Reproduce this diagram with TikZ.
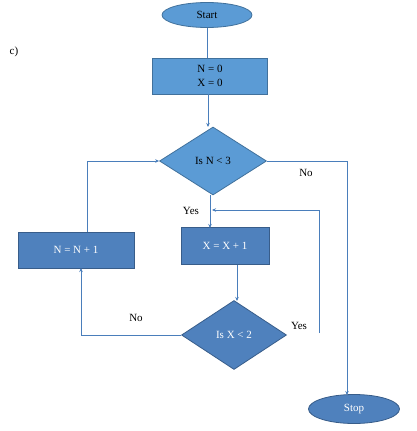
\documentclass[tikz,border=0pt]{standalone}
\usepackage{fontspec}
\setmainfont{Liberation Serif}
\usetikzlibrary{shapes.geometric,arrows.meta}
\definecolor{lightfill}{HTML}{5B9BD5}
\definecolor{lightedge}{HTML}{41719C}
\definecolor{darkfill}{HTML}{4F81BD}
\definecolor{darkedge}{HTML}{385D8A}
\definecolor{linec}{HTML}{4A7EBB}
\tikzset{
  every node/.style={font=\fontsize{11}{14}\selectfont},
  lightbox/.style={draw=lightedge, fill=lightfill, line width=0.8pt, text=black, inner sep=0pt},
  darkbox/.style={draw=darkedge, fill=darkfill, line width=0.8pt, text=white, inner sep=0pt},
  conn/.style={draw=linec, line width=0.7pt},
  arr/.style={conn, -{Stealth[length=4pt,width=3.5pt]}},
  lab/.style={text=black},
}
\begin{document}
\begin{tikzpicture}[x=1pt,y=-1pt]
\useasboundingbox (0,0) rectangle (416,431);
\node[lab] (c) at (14,52) {c)};
\node[lightbox, ellipse, minimum width=90pt, minimum height=25pt] (start) at (207,15) {Start};
\node[lightbox, rectangle, minimum width=115pt, minimum height=36pt, align=center] (init) at (210,76) {N = 0\\X = 0};
\node[lightbox, diamond, aspect=1.55, minimum width=107pt, minimum height=68pt] (d1) at (213,161) {Is N < 3};
\node[darkbox, rectangle, minimum width=116pt, minimum height=36pt] (incn) at (76,250) {N = N + 1};
\node[darkbox, rectangle, minimum width=88pt, minimum height=37pt] (incx) at (225,246) {X = X + 1};
\node[darkbox, diamond, aspect=1.52, minimum width=105pt, minimum height=69pt] (d2) at (234,335) {Is X < 2};
\node[darkbox, ellipse, minimum width=91pt, minimum height=29pt] (stop) at (354,409) {Stop};

\coordinate (yesstart) at (319,333);
\draw[conn] (start.south) -- (start.south |- init.north);
\draw[arr] (208,94) -- (208,127);
\draw[arr] (210,195) -- (210,228);
\draw[arr] (237,265) -- (237,301);
\draw[arr] (d2.west) -- (81,335) -- (81,268);
\draw[arr] (87,232) -- (87,161) -- (d1.west);
\draw[arr] (yesstart) -- (319,210) -- (212,210);
\draw[arr] (d1.east) -- (347,161) -- (347,395);

\node[lab] (yes1) at (191,211) {Yes};
\node[lab] (no1) at (306,173) {No};
\node[lab] (no2) at (136,318) {No};
\node[lab] (yes2) at (299,326) {Yes};
\end{tikzpicture}
\end{document}
